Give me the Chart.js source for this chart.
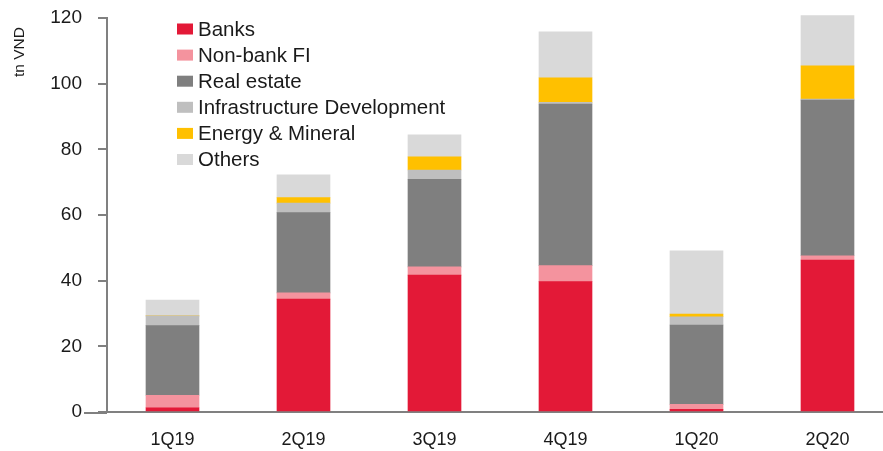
<!DOCTYPE html>
<html>
<head>
<meta charset="utf-8">
<script src="https://cdn.jsdelivr.net/npm/chart.js@4.4.1/dist/chart.umd.min.js"></script>
<style>
  html, body { margin: 0; padding: 0; background: #ffffff; overflow: hidden; }
  #wrap { width: 883px; height: 451px; overflow: hidden; position: relative; }
  canvas { display: block; }
</style>
</head>
<body>
<div id="wrap"><canvas id="c" width="900" height="451"></canvas></div>
<script>
// ---- data ----
const categories = ['1Q19', '2Q19', '3Q19', '4Q19', '1Q20', '2Q20'];
const banks      = [1.3, 34.4, 41.7, 39.7, 0.8, 46.3];
const nonBankFI  = [3.8, 1.9, 2.5, 4.9, 1.5, 1.3];
const realEstate = [21.2, 24.4, 26.7, 49.2, 24.2, 47.4];
const infraDev   = [3.0, 2.9, 2.8, 0.5, 2.5, 0.3];
const energyMin  = [0, 1.7, 4.0, 7.5, 0.8, 10.1];
const others     = [4.8, 6.9, 6.7, 14.0, 19.3, 15.3];
const seriesLabels = ['Banks', 'Non-bank FI', 'Real estate', 'Infrastructure Development', 'Energy & Mineral', 'Others'];
const yTicks = [0, 20, 40, 60, 80, 100, 120];
const yTitle = 'tn VND';

const colors = ['#E31937', '#F4939E', '#7F7F7F', '#BFBFBF', '#FFC000', '#D9D9D9'];
const seriesData = [banks, nonBankFI, realEstate, infraDev, energyMin, others];

const FONT = "'Liberation Sans', Arial, sans-serif";
const TEXT = '#1a1a1a';
const AXIS = '#808080';

const datasets = seriesLabels.map((l, i) => ({
  label: l,
  data: seriesData[i],
  backgroundColor: colors[i],
  borderWidth: 0,
  barThickness: 53,
  clip: false
}));

const customLegend = {
  id: 'customLegend',
  afterDraw(chart) {
    const ctx = chart.ctx;
    ctx.save();
    ctx.font = '20.5px ' + FONT;
    ctx.textBaseline = 'middle';
    ctx.textAlign = 'left';
    chart.data.datasets.forEach((ds, i) => {
      const cy = 29 + i * 26.1;
      ctx.fillStyle = ds.backgroundColor;
      ctx.fillRect(177, cy - 5.5, 16, 11);
      ctx.fillStyle = TEXT;
      ctx.fillText(ds.label, 198, cy + 1);
    });
    // y-axis title
    ctx.translate(20, 52);
    ctx.rotate(-Math.PI / 2);
    ctx.font = '15.5px ' + FONT;
    ctx.textAlign = 'center';
    ctx.textBaseline = 'middle';
    ctx.fillText(yTitle, 0, 0);
    ctx.restore();
    // extend x axis line to the left of y axis
    const a = chart.chartArea;
    ctx.save();
    ctx.strokeStyle = AXIS;
    ctx.lineWidth = 2;
    ctx.beginPath();
    ctx.moveTo(84, a.bottom + 1);
    ctx.lineTo(a.left, a.bottom + 1);
    ctx.stroke();
    ctx.restore();
  }
};

new Chart(document.getElementById('c'), {
  type: 'bar',
  data: { labels: categories, datasets },
  plugins: [customLegend],
  options: {
    responsive: false,
    animation: false,
    layout: { padding: { top: 18, right: 7, left: 0, bottom: 0 } },
    plugins: { legend: { display: false }, tooltip: { enabled: false } },
    scales: {
      x: {
        stacked: true,
        afterFit(s) { s.height = 39; s.paddingLeft = 0; s.paddingRight = 0; },
        grid: { display: true, drawOnChartArea: false, drawTicks: false },
        border: { display: true, color: AXIS, width: 2 },
        ticks: { color: TEXT, font: { family: FONT, size: 18 }, padding: 17 }
      },
      y: {
        stacked: true,
        min: 0, max: 120,
        afterFit(s) { s.width = 107; s.paddingTop = 0; s.paddingBottom = 0; },
        afterBuildTicks(s) { s.ticks = yTicks.map(v => ({ value: v })); },
        grid: { display: true, drawOnChartArea: false, drawTicks: true, tickLength: 9, color: AXIS, lineWidth: 2 },
        border: { display: true, color: AXIS, width: 2 },
        ticks: { color: TEXT, font: { family: FONT, size: 19 }, padding: 16 }
      }
    }
  }
});
</script>
</body>
</html>
